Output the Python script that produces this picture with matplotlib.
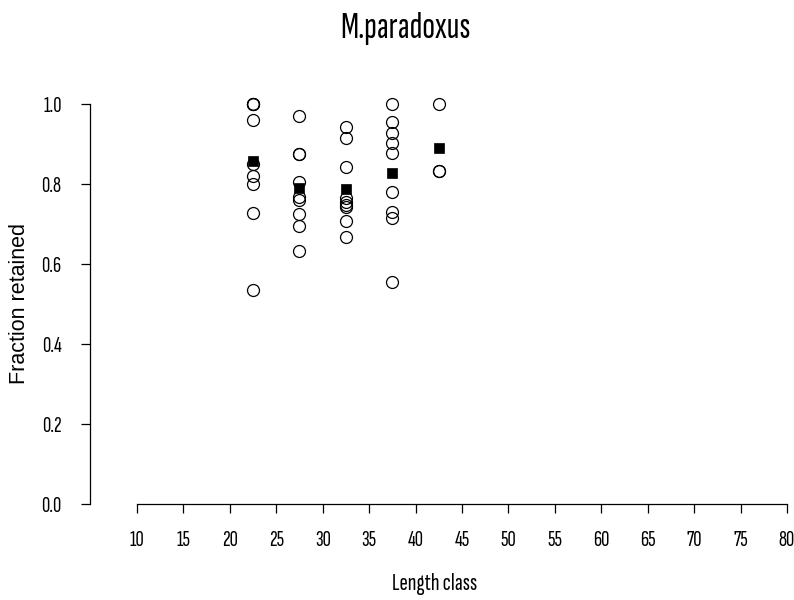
import matplotlib.pyplot as plt

# length classes (mid-points) and the fraction retained in each sample
length_class = [22.5, 27.5, 32.5, 37.5, 42.5]
retained_22 = [1.00, 1.00, 1.00, 0.96, 0.85, 0.82, 0.80, 0.728, 0.535]
retained_27 = [0.97, 0.875, 0.875, 0.806, 0.768, 0.760, 0.725, 0.695, 0.633]
retained_32 = [0.943, 0.916, 0.842, 0.765, 0.755, 0.748, 0.742, 0.708, 0.668]
retained_37 = [1.00, 0.956, 0.928, 0.903, 0.877, 0.780, 0.731, 0.716, 0.556]
retained_42 = [1.00, 0.833, 0.833]
mean_retained = [0.857, 0.789, 0.787, 0.828, 0.889]

x_ticks = list(range(10, 81, 5))
y_ticks = [0.0, 0.2, 0.4, 0.6, 0.8, 1.0]
y_tick_labels = ['0.0', '0.2', '0.4', '0.6', '0.8', '1.0']

narrow = ['Sofia Sans Extra Condensed', 'Liberation Sans', 'DejaVu Sans']
plain = ['Liberation Sans', 'DejaVu Sans']

fig = plt.figure(figsize=(7.94, 6), dpi=100)
ax = fig.add_axes([90 / 794, 96 / 600, 697 / 794, 400 / 600])

ax.plot(length_class, mean_retained, 's', color='black', ms=7.8, mew=0.5,
        clip_on=False, zorder=2)
groups = [retained_22, retained_27, retained_32, retained_37, retained_42]
for xc, ys in zip(length_class, groups):
    ax.plot([xc] * len(ys), ys, 'o', mfc='none', mec='black', ms=8.6,
            mew=0.9, clip_on=False, zorder=3)

ax.set_xlim(4.94, 80)
ax.set_ylim(0, 1)
for side in ['top', 'right']:
    ax.spines[side].set_visible(False)
ax.spines['left'].set_bounds(0, 1)
ax.spines['bottom'].set_bounds(10, 80)
for side in ['left', 'bottom']:
    ax.spines[side].set_linewidth(0.9)

ax.set_xticks(x_ticks)
ax.set_xticklabels([str(t) for t in x_ticks], family=narrow, fontsize=16.5)
ax.set_yticks(y_ticks)
ax.set_yticklabels(y_tick_labels, family=narrow, fontsize=16.5)
ax.tick_params(axis='both', direction='out', length=6.5, width=0.9)
ax.tick_params(axis='x', pad=13)
ax.tick_params(axis='y', pad=14)

fig.text(405 / 794, 1 - 38 / 600, 'M.paradoxus', ha='center', va='baseline',
         family=narrow, fontsize=27)
fig.text(435 / 794, 1 - 590 / 600, 'Length class', ha='center', va='baseline',
         family=narrow, fontsize=18)
fig.text(20 / 794, 1 - 304 / 600, 'Fraction retained', rotation=90,
         ha='center', va='center', family=plain, fontsize=15.5)

fig.savefig('out.png', dpi=100)
